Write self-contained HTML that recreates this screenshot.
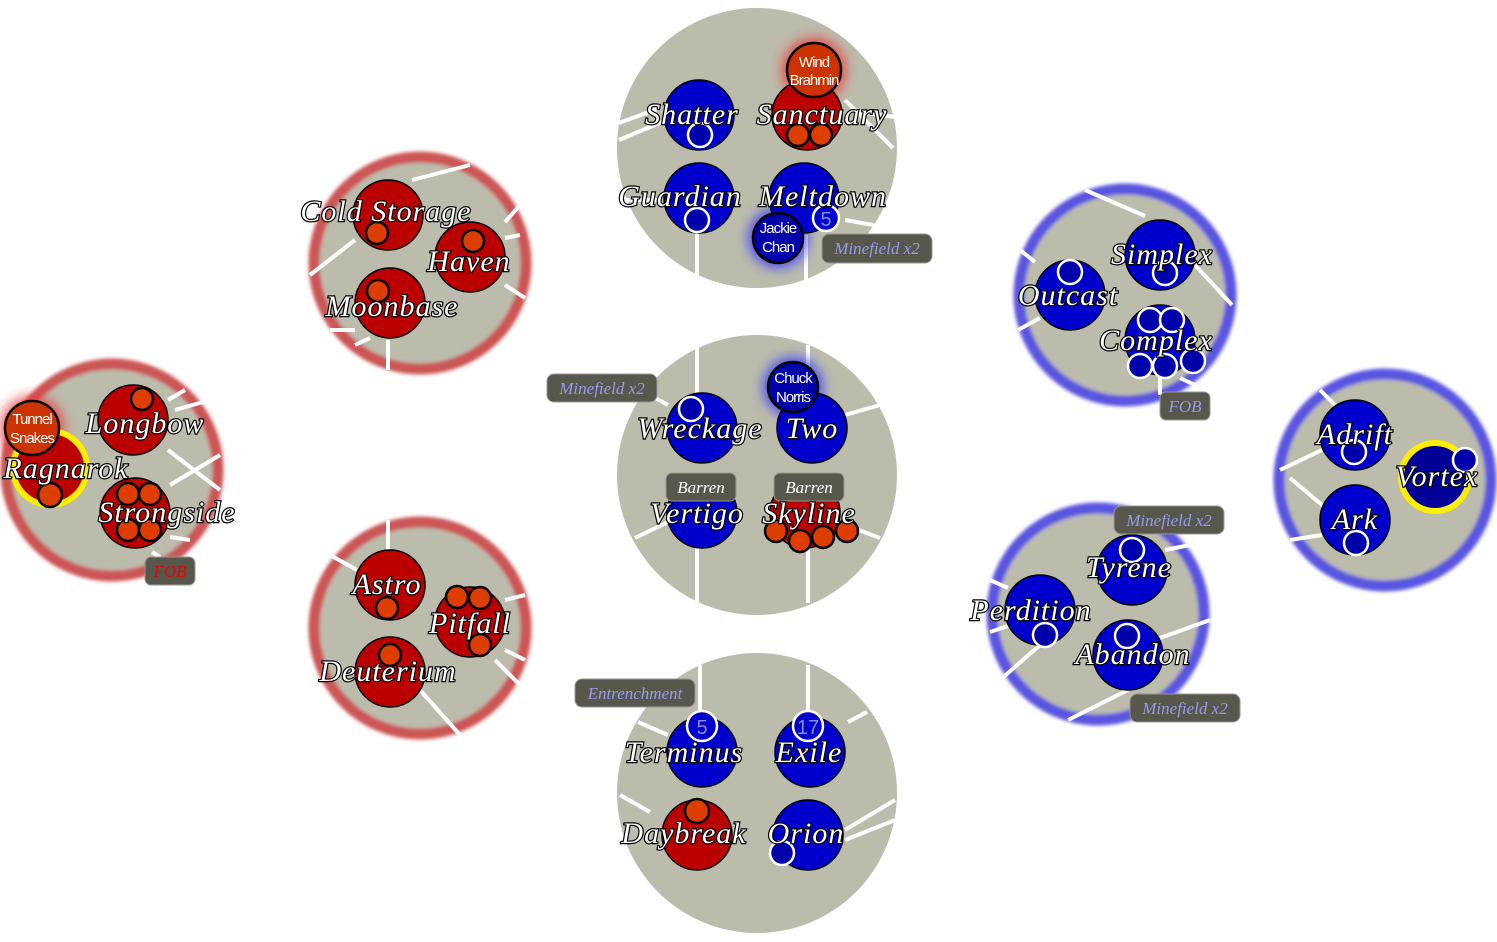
<!DOCTYPE html>
<html><head><meta charset="utf-8"><style>
html,body{margin:0;padding:0;background:#fff;width:1497px;height:942px;overflow:hidden}
svg{display:block}
.n{font-family:"Liberation Serif",serif;font-style:italic;font-size:30px;letter-spacing:1px;fill:#fff;stroke:#000;stroke-width:2.4px;paint-order:stroke;text-anchor:middle}
.s{font-family:"Liberation Sans",sans-serif;font-size:15px;fill:#fff;text-anchor:middle;letter-spacing:-1px}
.lb{font-family:"Liberation Serif",serif;font-style:italic;font-size:17px;fill:#9999ee;text-anchor:middle}
.lw{font-family:"Liberation Serif",serif;font-style:italic;font-size:17px;fill:#fff;text-anchor:middle}
.num{font-family:"Liberation Sans",sans-serif;font-size:20px;fill:#8888ee;text-anchor:middle}
.ln{stroke:#fff;stroke-width:4;fill:none}
.B{fill:#0000cc;stroke:#000;stroke-width:1.5}
.R{fill:#bb0000;stroke:#000;stroke-width:1.5}
.o{fill:#dd3e00;stroke:#000;stroke-width:2.5}
.w{fill:#0000aa;stroke:#fff;stroke-width:2.5}
.tag{fill:#57574b;stroke:#999;stroke-width:1}
</style></head><body>
<svg width="1497" height="942" viewBox="0 0 1497 942">
<defs>
<filter id="bl" x="-20%" y="-20%" width="140%" height="140%"><feGaussianBlur stdDeviation="1.8"/></filter>
<filter id="gl" x="-60%" y="-60%" width="220%" height="220%"><feGaussianBlur stdDeviation="6"/></filter>
</defs>

<circle cx="757" cy="148" r="140" fill="#bcbcad"/>
<circle cx="757" cy="475" r="140" fill="#bcbcad"/>
<circle cx="757" cy="793" r="140" fill="#bcbcad"/>

<g filter="url(#bl)">
<circle cx="420" cy="263" r="106" fill="#bcbcad" stroke="#cc5555" stroke-width="11"/>
<circle cx="420" cy="628" r="106" fill="#bcbcad" stroke="#cc5555" stroke-width="11"/>
<circle cx="112" cy="470" r="106" fill="#bcbcad" stroke="#cc5555" stroke-width="11"/>
<circle cx="1125" cy="295" r="106" fill="#bcbcad" stroke="#5a55e0" stroke-width="11"/>
<circle cx="1098" cy="614" r="106" fill="#bcbcad" stroke="#5a55e0" stroke-width="11"/>
<circle cx="1385" cy="480" r="106" fill="#bcbcad" stroke="#5a55e0" stroke-width="11"/>
</g>

<g class="ln">
<line x1="619" y1="123" x2="660" y2="108"/><line x1="619" y1="140" x2="662" y2="122"/>
<line x1="697" y1="230" x2="697" y2="280"/><line x1="806" y1="235" x2="806" y2="285"/>
<line x1="845" y1="100" x2="893" y2="148"/><line x1="858" y1="112" x2="895" y2="117"/>
<line x1="845" y1="220" x2="890" y2="228"/><line x1="620" y1="200" x2="660" y2="200"/>
<line x1="697" y1="345" x2="697" y2="395"/><line x1="808" y1="345" x2="808" y2="390"/>
<line x1="845" y1="415" x2="880" y2="405"/><line x1="635" y1="538" x2="668" y2="522"/>
<line x1="697" y1="545" x2="697" y2="603"/><line x1="808" y1="545" x2="808" y2="603"/>
<line x1="845" y1="525" x2="880" y2="538"/><line x1="650" y1="395" x2="668" y2="405"/>
<line x1="700" y1="665" x2="700" y2="712"/><line x1="808" y1="665" x2="808" y2="712"/>
<line x1="848" y1="722" x2="867" y2="712"/><line x1="638" y1="722" x2="668" y2="735"/>
<line x1="620" y1="795" x2="650" y2="812"/><line x1="845" y1="830" x2="895" y2="800"/>
<line x1="845" y1="840" x2="895" y2="820"/>
<line x1="412" y1="180" x2="470" y2="165"/><line x1="310" y1="275" x2="355" y2="240"/>
<line x1="505" y1="222" x2="520" y2="205"/><line x1="505" y1="238" x2="520" y2="235"/>
<line x1="505" y1="285" x2="525" y2="298"/><line x1="330" y1="330" x2="355" y2="330"/>
<line x1="355" y1="345" x2="370" y2="338"/><line x1="388" y1="340" x2="388" y2="370"/>
<line x1="388" y1="520" x2="388" y2="550"/><line x1="330" y1="555" x2="357" y2="570"/>
<line x1="505" y1="600" x2="525" y2="595"/><line x1="505" y1="650" x2="525" y2="660"/>
<line x1="495" y1="660" x2="520" y2="685"/><line x1="420" y1="690" x2="460" y2="735"/>
<line x1="168" y1="400" x2="185" y2="390"/><line x1="175" y1="410" x2="210" y2="400"/>
<line x1="168" y1="450" x2="220" y2="490"/><line x1="170" y1="485" x2="220" y2="455"/>
<line x1="170" y1="537" x2="190" y2="540"/><line x1="152" y1="552" x2="160" y2="557"/>
<line x1="1085" y1="190" x2="1145" y2="216"/><line x1="1020" y1="250" x2="1035" y2="262"/>
<line x1="1018" y1="330" x2="1040" y2="318"/><line x1="1195" y1="265" x2="1232" y2="305"/>
<line x1="1160" y1="375" x2="1160" y2="395"/><line x1="1180" y1="378" x2="1195" y2="385"/>
<line x1="990" y1="580" x2="1008" y2="588"/><line x1="990" y1="632" x2="1008" y2="626"/>
<line x1="1040" y1="645" x2="1000" y2="680"/><line x1="1068" y1="720" x2="1128" y2="690"/>
<line x1="1165" y1="550" x2="1190" y2="545"/><line x1="1160" y1="638" x2="1210" y2="620"/>
<line x1="1320" y1="390" x2="1335" y2="405"/><line x1="1280" y1="470" x2="1322" y2="450"/>
<line x1="1290" y1="478" x2="1328" y2="510"/><line x1="1290" y1="540" x2="1322" y2="535"/>
</g>

<circle cx="814" cy="70" r="32" fill="#ee3333" filter="url(#gl)" opacity="0.8"/>
<circle cx="778" cy="238" r="30" fill="#3333ff" filter="url(#gl)" opacity="0.8"/>
<circle cx="793" cy="387" r="30" fill="#3333ff" filter="url(#gl)" opacity="0.8"/>
<circle cx="32" cy="428" r="32" fill="#ee3333" filter="url(#gl)" opacity="0.8"/>

<circle class="B" cx="699" cy="115" r="35"/><circle class="w" cx="700" cy="135" r="12"/>
<circle class="R" cx="807" cy="115" r="35"/><circle class="o" cx="798" cy="135" r="11"/><circle class="o" cx="821" cy="135" r="11"/>
<circle class="B" cx="699" cy="198" r="35"/><circle class="w" cx="697" cy="220" r="12"/>
<circle class="B" cx="804" cy="198" r="35"/><circle class="w" cx="826" cy="218" r="13" style="fill:#0000cc"/>
<text class="num" x="826" y="226">5</text>
<text class="n" x="692" y="124">Shatter</text>
<text class="n" x="822" y="124">Sanctuary</text>
<text class="n" x="680" y="206">Guardian</text>
<text class="n" x="823" y="206">Meltdown</text>
<circle cx="814" cy="70" r="27" fill="#cc3300" stroke="#000" stroke-width="2.5"/>
<text class="s" x="814" y="67">Wind</text><text class="s" x="814" y="85">Brahmin</text>
<circle cx="778" cy="238" r="25" fill="#0000aa" stroke="#000" stroke-width="2.5"/>
<text class="s" x="778" y="233">Jackie</text><text class="s" x="778" y="252">Chan</text>
<rect class="tag" x="822" y="234" width="110" height="29" rx="7"/>
<text class="lb" x="877" y="254">Minefield x2</text>

<circle class="B" cx="702" cy="428" r="35"/><circle class="w" cx="691" cy="409" r="12"/>
<circle class="B" cx="812" cy="428" r="35"/>
<circle class="B" cx="702" cy="513" r="35"/>
<circle class="R" cx="805" cy="513" r="35"/>
<circle class="o" cx="776" cy="531" r="11"/><circle class="o" cx="800" cy="541" r="11"/><circle class="o" cx="823" cy="537" r="11"/><circle class="o" cx="847" cy="531" r="11"/>
<circle cx="793" cy="387" r="25" fill="#0000aa" stroke="#000" stroke-width="2.5"/>
<text class="s" x="793" y="383">Chuck</text><text class="s" x="793" y="402">Norris</text>
<text class="n" x="700" y="438">Wreckage</text>
<text class="n" x="812" y="438">Two</text>
<rect class="tag" x="666" y="473" width="70" height="28" rx="6"/><text class="lw" x="701" y="493">Barren</text>
<rect class="tag" x="774" y="473" width="70" height="28" rx="6"/><text class="lw" x="809" y="493">Barren</text>
<text class="n" x="697" y="523">Vertigo</text>
<text class="n" x="809" y="523">Skyline</text>
<rect class="tag" x="547" y="374" width="110" height="28" rx="7"/><text class="lb" x="602" y="394">Minefield x2</text>

<circle class="B" cx="702" cy="752" r="35"/><circle class="w" cx="702" cy="726" r="15" style="fill:#0000cc"/><text class="num" x="702" y="734">5</text>
<circle class="B" cx="810" cy="752" r="35"/><circle class="w" cx="808" cy="726" r="15" style="fill:#0000cc"/><text class="num" x="808" y="734">17</text>
<circle class="R" cx="697" cy="835" r="35"/><circle class="o" cx="697" cy="811" r="12"/>
<circle class="B" cx="808" cy="835" r="35"/><circle class="w" cx="782" cy="853" r="12"/>
<text class="n" x="684" y="762">Terminus</text>
<text class="n" x="809" y="762">Exile</text>
<text class="n" x="684" y="843">Daybreak</text>
<text class="n" x="806" y="843">Orion</text>
<rect class="tag" x="575" y="679" width="120" height="28" rx="7"/><text class="lb" x="635" y="699">Entrenchment</text>

<circle class="R" cx="388" cy="215" r="35"/><circle class="o" cx="377" cy="233" r="11"/>
<circle class="R" cx="470" cy="257" r="35"/><circle class="o" cx="473" cy="241" r="11"/>
<circle class="R" cx="390" cy="303" r="35"/><circle class="o" cx="378" cy="291" r="11"/>
<text class="n" x="386" y="221">Cold Storage</text>
<text class="n" x="469" y="271">Haven</text>
<text class="n" x="392" y="316">Moonbase</text>

<circle class="R" cx="390" cy="585" r="35"/><circle class="o" cx="387" cy="608" r="11"/>
<circle class="R" cx="470" cy="622" r="35"/><circle class="o" cx="457" cy="597" r="11"/><circle class="o" cx="480" cy="598" r="11"/><circle class="o" cx="480" cy="645" r="11"/>
<circle class="R" cx="390" cy="672" r="35"/><circle class="o" cx="390" cy="655" r="11"/>
<text class="n" x="387" y="594">Astro</text>
<text class="n" x="470" y="633">Pitfall</text>
<text class="n" x="388" y="681">Deuterium</text>

<circle class="R" cx="133" cy="420" r="35"/><circle class="o" cx="142" cy="399" r="11"/>
<circle cx="50" cy="468" r="37" fill="#bb0000" stroke="#ffee00" stroke-width="6"/><circle class="o" cx="50" cy="495" r="12"/>
<circle class="R" cx="135" cy="513" r="35"/>
<circle class="o" cx="128" cy="494" r="11"/><circle class="o" cx="150" cy="494" r="11"/><circle class="o" cx="128" cy="530" r="11"/><circle class="o" cx="150" cy="530" r="11"/>
<circle cx="32" cy="428" r="27" fill="#cc3300" stroke="#000" stroke-width="2.5"/>
<text class="s" x="32" y="424">Tunnel</text><text class="s" x="32" y="443">Snakes</text>
<text class="n" x="145" y="433">Longbow</text>
<text class="n" x="66" y="478">Ragnarok</text>
<text class="n" x="167" y="522">Strongside</text>
<rect class="tag" x="145" y="557" width="50" height="28" rx="6"/>
<text class="lw" x="170" y="577" style="fill:#ee0000">FOB</text>

<circle class="B" cx="1160" cy="255" r="35"/><circle class="w" cx="1165" cy="273" r="12"/>
<circle class="B" cx="1070" cy="295" r="35"/><circle class="w" cx="1070" cy="272" r="12"/>
<circle class="B" cx="1160" cy="340" r="35"/>
<circle class="w" cx="1150" cy="320" r="12"/><circle class="w" cx="1172" cy="320" r="12"/>
<circle class="w" cx="1140" cy="366" r="12"/><circle class="w" cx="1165" cy="366" r="12"/><circle class="w" cx="1193" cy="361" r="12"/>
<text class="n" x="1162" y="264">Simplex</text>
<text class="n" x="1068" y="305">Outcast</text>
<text class="n" x="1156" y="350">Complex</text>
<rect class="tag" x="1160" y="392" width="50" height="28" rx="6"/><text class="lb" x="1185" y="412">FOB</text>

<circle class="B" cx="1132" cy="570" r="35"/><circle class="w" cx="1132" cy="550" r="12"/>
<circle class="B" cx="1040" cy="610" r="35"/><circle class="w" cx="1045" cy="635" r="12"/>
<circle class="B" cx="1128" cy="655" r="35"/><circle class="w" cx="1127" cy="636" r="12"/>
<text class="n" x="1129" y="577">Tyrene</text>
<text class="n" x="1031" y="620">Perdition</text>
<text class="n" x="1133" y="664">Abandon</text>
<rect class="tag" x="1114" y="506" width="110" height="28" rx="7"/><text class="lb" x="1169" y="526">Minefield x2</text>
<rect class="tag" x="1130" y="694" width="110" height="28" rx="7"/><text class="lb" x="1185" y="714">Minefield x2</text>

<circle class="B" cx="1355" cy="435" r="35"/><circle class="w" cx="1354" cy="452" r="12"/>
<circle cx="1435" cy="477" r="34" fill="#000099" stroke="#ffee00" stroke-width="6"/><circle class="w" cx="1465" cy="460" r="12"/>
<circle class="B" cx="1355" cy="520" r="35"/><circle class="w" cx="1356" cy="543" r="12"/>
<text class="n" x="1355" y="444">Adrift</text>
<text class="n" x="1437" y="486">Vortex</text>
<text class="n" x="1355" y="529">Ark</text>
</svg>
</body></html>
